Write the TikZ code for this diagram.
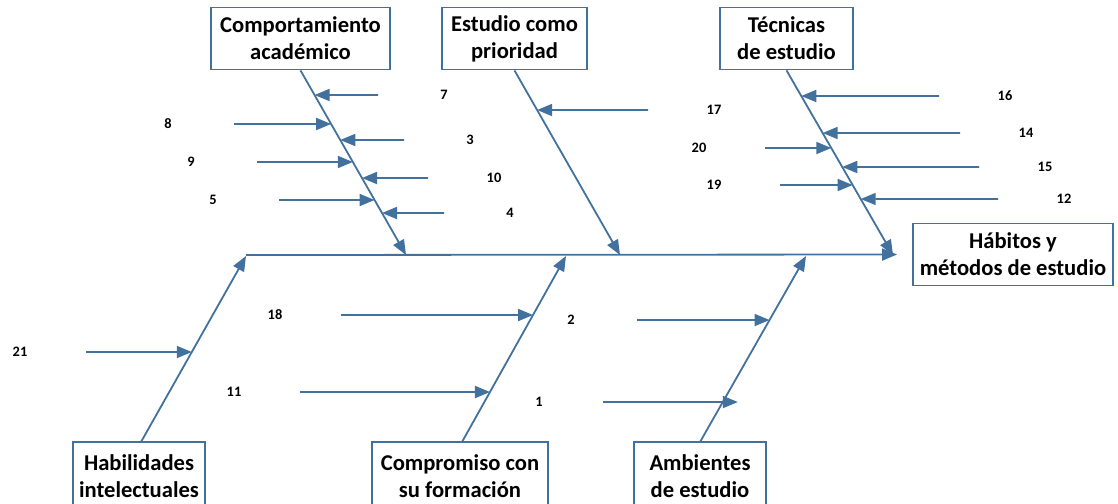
\documentclass[tikz,border=0pt]{standalone}
\usepackage{fontspec}
\setmainfont{Carlito}
\usepackage{xcolor}
\usetikzlibrary{arrows.meta,positioning}

\definecolor{bonecol}{HTML}{41719C}

\begin{document}
\begin{tikzpicture}[
        x=0.5pt, y=-0.5pt,
        box/.style={draw=bonecol, line width=0.9pt, fill=white, align=center,
            minimum height=31pt, inner sep=0pt,
            font=\fontsize{11.3}{13.5}\selectfont\bfseries},
        num/.style={inner sep=0pt, font=\fontsize{7.2}{8}\selectfont\bfseries},
        bone/.style={draw=bonecol, line width=0.9pt, -{Triangle[length=7.5pt,width=6pt]}},
        cause/.style={draw=bonecol, line width=0.9pt, -{Triangle[length=7.5pt,width=6pt]}}
    ]
    \useasboundingbox (0,0) rectangle (1118,503);

    % Effect
    \node[box, minimum width=100pt] (efecto) at (1013,254.5) {Hábitos y\\métodos de estudio};

    % Top categories
    \node[box, minimum width=89.5pt] (ca) at (300.5,38.5) {Comportamiento\\académico};
    \node[box, minimum width=72.5pt] (ep) at (514.5,38.5) {Estudio como\\prioridad};
    \node[box, minimum width=66.5pt] (te) at (786.5,38.5) {Técnicas\\de estudio};

    % Bottom categories
    \node[box, minimum width=66pt, minimum height=34pt] (hi) at (139,476) {Habilidades\\intelectuales};
    \node[box, minimum width=88pt, minimum height=34pt] (co) at (460,476) {Compromiso con\\su formación};
    \node[box, minimum width=66pt, minimum height=34pt] (am) at (700,476) {Ambientes\\de estudio};

    % Spine
    \coordinate (spine) at (246,255);
    \draw[bone, shorten >=7.5pt] (spine) -- (efecto.west);

    % Bones
    \coordinate (catop) at (ca.south);
    \coordinate (caend) at (406,255);
    \coordinate (eptop) at (ep.south);
    \coordinate (epend) at (620,255);
    \coordinate (tetop) at (te.south);
    \coordinate (teend) at (893,255);
    \coordinate (hibot) at (141,442);
    \coordinate (hiend) at (246,256);
    \coordinate (cobot) at (462,442);
    \coordinate (coend) at (566,256);
    \coordinate (ambot) at (700,442);
    \coordinate (amend) at (806,256);

    \draw[bone] (catop) -- (caend);
    \draw[bone] (eptop) -- (epend);
    \draw[bone] (tetop) -- (teend);
    \draw[bone] (hibot) -- (hiend);
    \draw[bone] (cobot) -- (coend);
    \draw[bone] (ambot) -- (amend);

    % Causes coming from the right
    \foreach \n/\x/\y/\b in {7/444/95/ca, 3/470/140/ca, 10/494/178/ca, 4/510/213/ca,
                             17/714/110/ep,
                             16/1005/96/te, 14/1026/133/te, 15/1045/167/te, 12/1064/199/te} {
        \node[num] (n\n) at (\x,\y) {\n};
        \coordinate (c\n) at ([xshift=-33pt]n\n.center);
        \draw[cause] (c\n) -- (intersection of \b top--\b end and c\n--n\n);
    }

    % Causes coming from the left (top)
    \foreach \n/\x/\y/\b in {8/168/124/ca, 9/191/162/ca, 5/213/200/ca,
                             20/699/148/te, 19/714/185/te} {
        \node[num] (n\n) at (\x,\y) {\n};
        \coordinate (c\n) at ([xshift=33pt]n\n.center);
        \draw[cause] (c\n) -- (intersection of \b top--\b end and c\n--n\n);
    }

    % Causes coming from the left (bottom)
    \foreach \n/\x/\y/\b in {21/20/352/hi, 18/275/315/co, 11/234/392/co, 2/571/320/am} {
        \node[num] (n\n) at (\x,\y) {\n};
        \coordinate (c\n) at ([xshift=33pt]n\n.center);
        \draw[cause] (c\n) -- (intersection of \b bot--\b end and c\n--n\n);
    }
    \node[num] (n1) at (539,402) {1};
    \coordinate (c1) at ([xshift=32pt]n1.center);
    \draw[cause, shorten >=-7.5pt] (c1) -- (intersection of ambot--amend and c1--n1);

\end{tikzpicture}
\end{document}
